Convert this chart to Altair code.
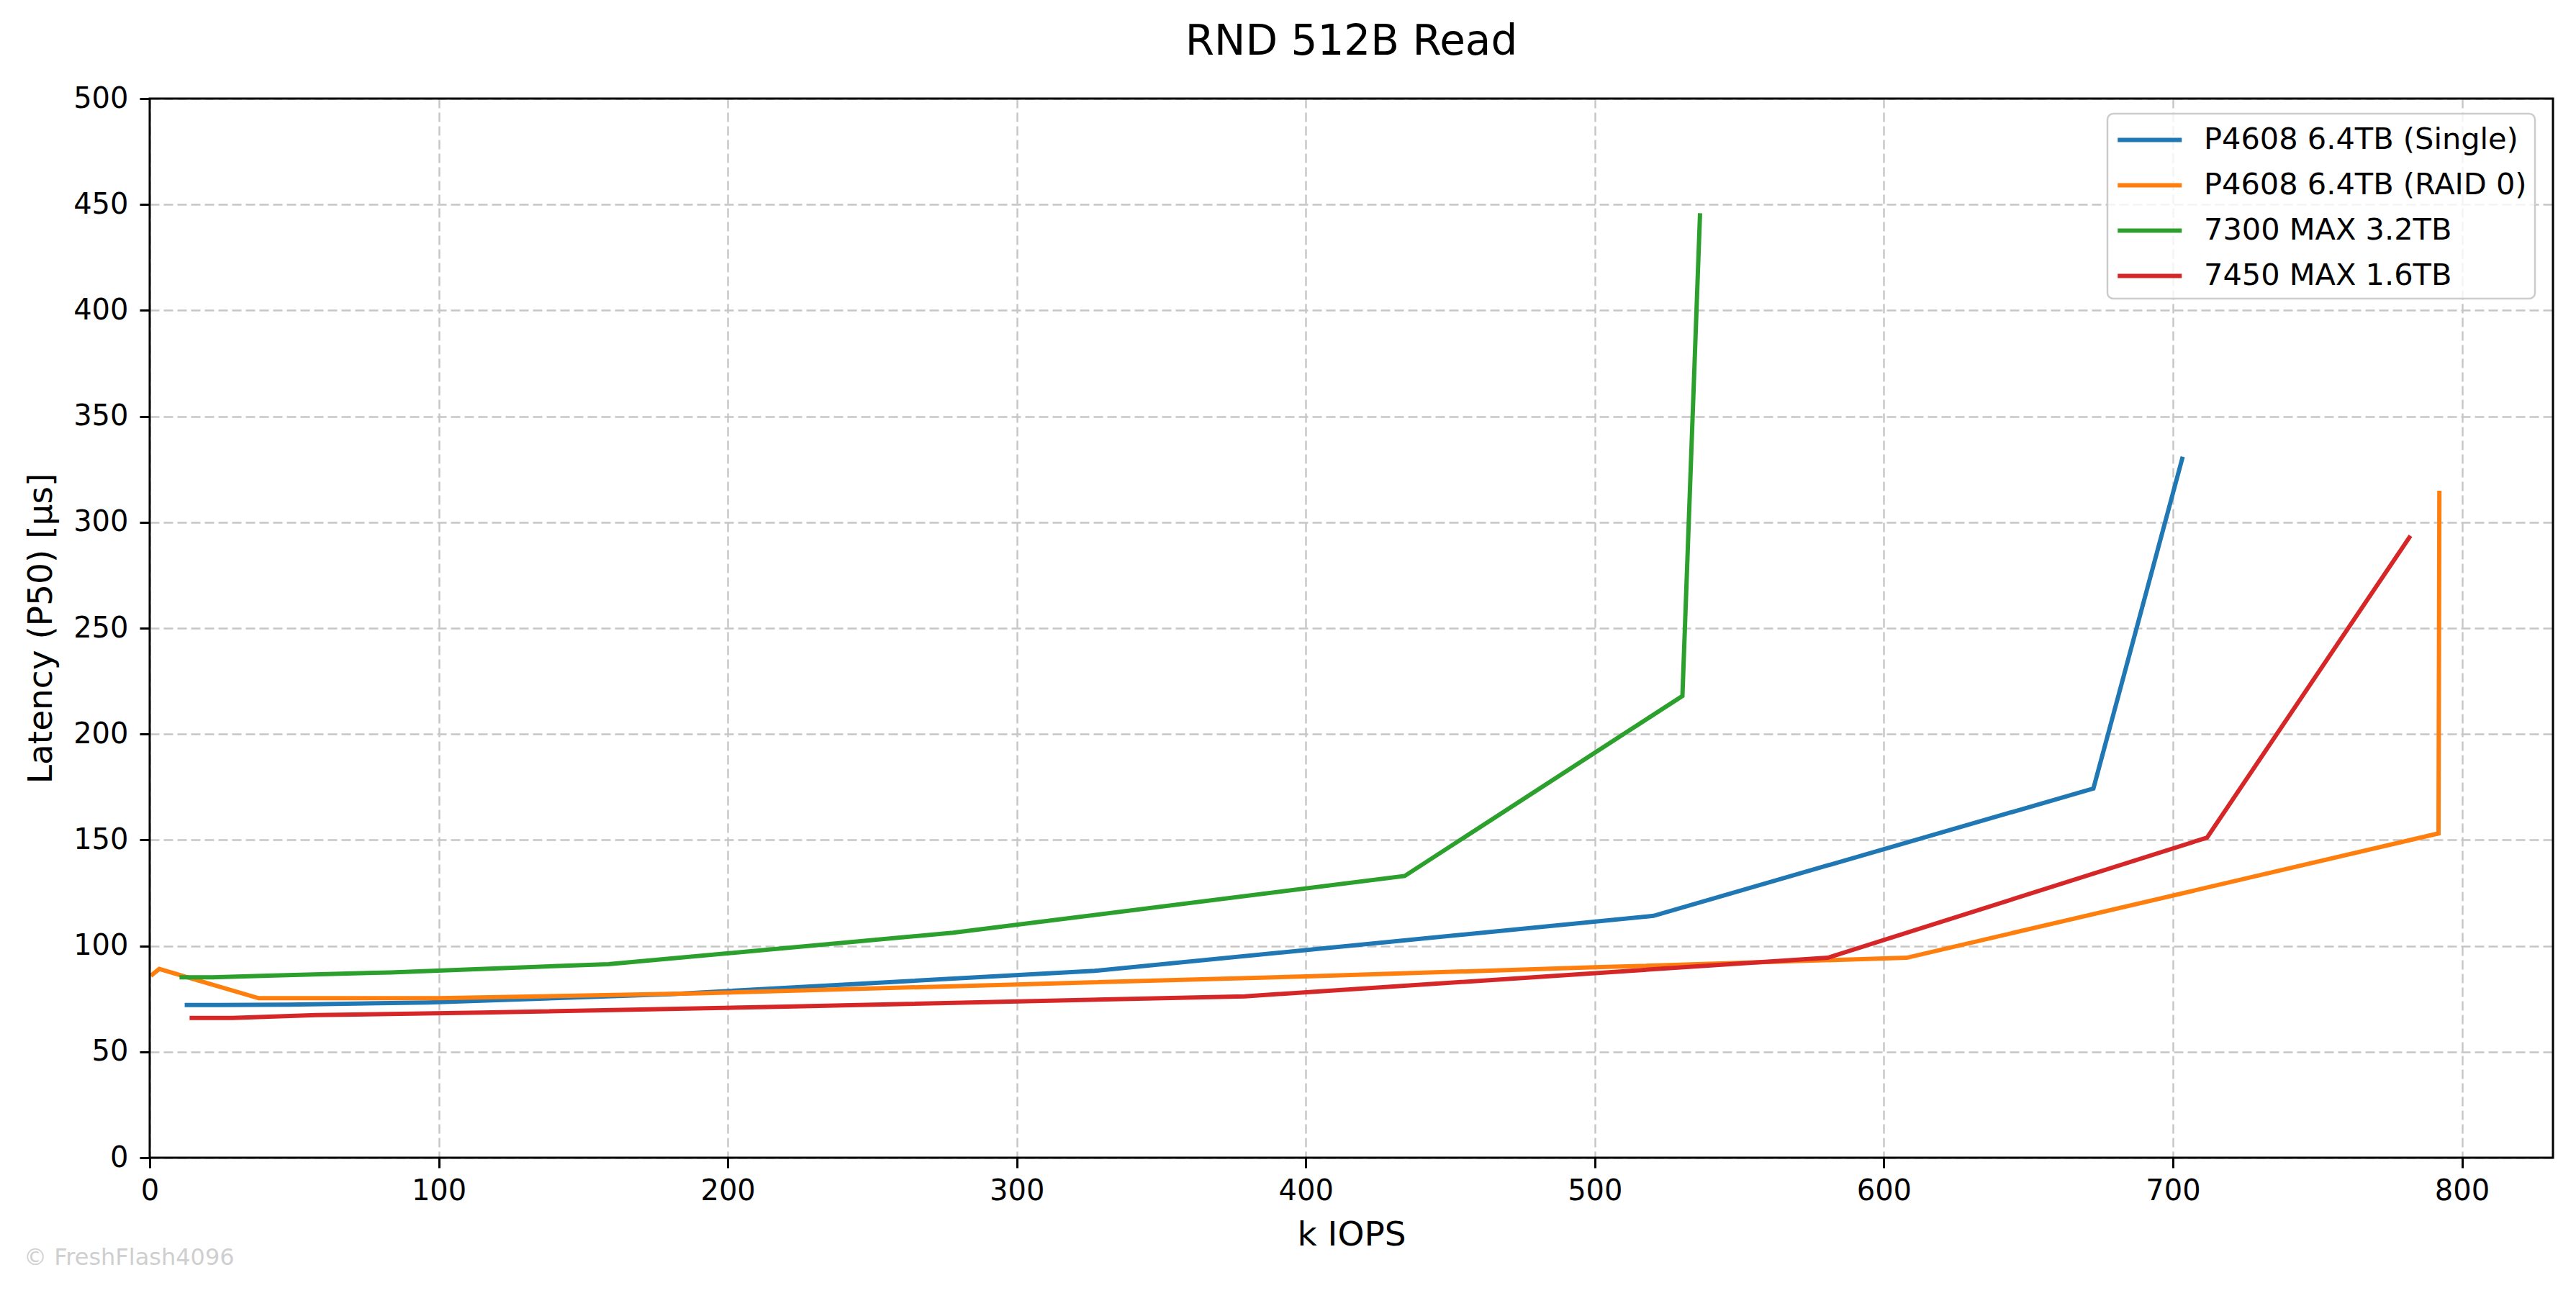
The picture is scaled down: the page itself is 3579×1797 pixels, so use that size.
import altair as alt
import pandas as pd

# ---- data ----
series_names = [
    "P4608 6.4TB (Single)",
    "P4608 6.4TB (RAID 0)",
    "7300 MAX 3.2TB",
    "7450 MAX 1.6TB",
]
series_colors = ["#1f77b4", "#ff7f0e", "#2ca02c", "#d62728"]

single_x = [12.1, 24.3, 48.2, 96.5, 180.0, 326.9, 520.3, 672.5, 703.4]
single_y = [72.1, 72.1, 72.3, 73.3, 77.2, 88.2, 114.2, 174.3, 330.9]

raid0_x = [0.4, 3.3, 37.7, 100.0, 190.0, 300.0, 400.0, 500.0, 607.9, 791.9, 792.2]
raid0_y = [85.9, 89.1, 75.3, 75.3, 77.6, 81.8, 85.6, 89.9, 94.4, 153.1, 314.9]

max7300_x = [10.3, 21.8, 43.0, 83.5, 158.7, 278.0, 434.2, 530.3, 536.4]
max7300_y = [85.2, 85.2, 86.0, 87.5, 91.4, 106.2, 133.0, 218.0, 445.9]

max7450_x = [13.8, 28.5, 57.6, 115.0, 220.0, 378.9, 580.6, 711.8, 782.2]
max7450_y = [66.0, 66.0, 67.3, 68.5, 71.3, 76.2, 94.4, 151.1, 293.6]

x_ticks = [0, 100, 200, 300, 400, 500, 600, 700, 800]
y_ticks = [0, 50, 100, 150, 200, 250, 300, 350, 400, 450, 500]

title_text = "RND 512B Read"
x_title = "k IOPS"
y_title = "Latency (P50) [µs]"
watermark = "© FreshFlash4096"

# ---- build table ----
rows = []
for name, xs, ys in [
    (series_names[0], single_x, single_y),
    (series_names[1], raid0_x, raid0_y),
    (series_names[2], max7300_x, max7300_y),
    (series_names[3], max7450_x, max7450_y),
]:
    for i, (xv, yv) in enumerate(zip(xs, ys)):
        rows.append({"series": name, "iops": xv, "lat": yv, "idx": i})
df = pd.DataFrame(rows)

FONT = "DejaVu Sans"
W, H = 3339, 1472

lines = alt.Chart(df).mark_line(strokeWidth=6, strokeCap="butt", strokeJoin="miter").encode(
    x=alt.X(
        "iops:Q",
        scale=alt.Scale(domain=[0, 831.5], nice=False, zero=False),
        axis=alt.Axis(
            values=x_ticks,
            title=x_title,
            titleY=107,
            titleBaseline="middle",
            labelPadding=12,
            labelFlush=False,
        ),
    ),
    y=alt.Y(
        "lat:Q",
        scale=alt.Scale(domain=[0, 500], nice=False),
        axis=alt.Axis(
            values=y_ticks,
            title=y_title,
            titleX=-151,
            titleY=H / 2,
            titleBaseline="middle",
            labelPadding=16,
            labelFlush=False,
        ),
    ),
    color=alt.Color(
        "series:N",
        scale=alt.Scale(domain=series_names, range=series_colors),
        legend=alt.Legend(
            title=None,
            orient="none",
            legendX=2720,
            legendY=21,
            symbolType="M-1,0H3",
            symbolSize=1980,
            symbolStrokeWidth=6,
            labelOffset=72,
            labelFontSize=41.5,
            labelFont=FONT,
            labelColor="black",
            labelLimit=0,
            rowPadding=17,
            padding=11,
            strokeColor="#cccccc",
            fillColor="rgba(255,255,255,0.8)",
            cornerRadius=8,
        ),
    ),
    order=alt.Order("idx:Q"),
    detail="series:N",
)

# plot frame (spines) drawn above grid and lines
frame = alt.Chart(pd.DataFrame({"f": [0]})).mark_rect(
    fill=None, fillOpacity=0, stroke="black", strokeWidth=3
).encode(x=alt.value(0), x2=alt.value(W), y=alt.value(0), y2=alt.value(H))

wm = alt.Chart(pd.DataFrame({"t": [watermark]})).mark_text(
    align="left", baseline="middle", fontSize=32, font=FONT, color="#cfcfcf"
).encode(x=alt.value(-175), y=alt.value(1611), text="t:N")

chart = (
    alt.layer(lines, frame, wm)
    .properties(
        width=W,
        height=H,
        title=alt.TitleParams(
            title_text,
            fontSize=58,
            font=FONT,
            fontWeight="normal",
            anchor="middle",
            offset=29,
            color="black",
        ),
        autosize=alt.AutoSizeParams(type="none"),
        padding={"left": 200, "top": 129, "right": 24, "bottom": 170},
    )
    .configure_view(stroke=None)
    .configure_axis(
        labelFont=FONT,
        labelFontSize=40,
        labelColor="black",
        titleFont=FONT,
        titleFontSize=47,
        titleFontWeight="normal",
        titleColor="black",
        tickSize=14,
        tickWidth=3,
        tickColor="black",
        domain=False,
        grid=True,
        gridColor="#c6c6c6",
        gridWidth=2.4,
        gridDash=[13, 6],
    )
    .configure_legend(
        strokeWidth=2.5,
    )
)

chart.save("out.html", embed_options={"renderer": "svg", "actions": False})
